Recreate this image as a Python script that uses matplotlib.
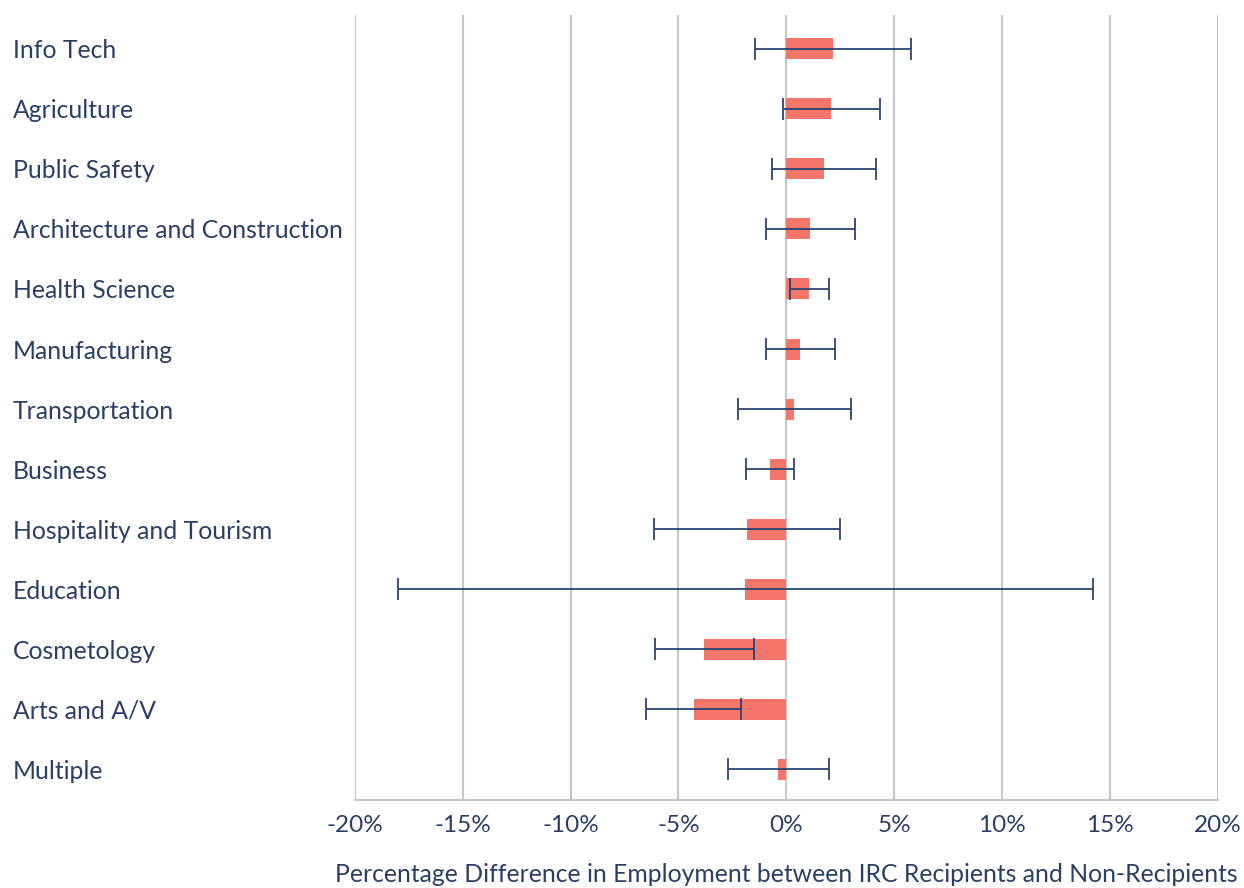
import matplotlib
matplotlib.use("Agg")
import matplotlib.pyplot as plt
from matplotlib.ticker import FuncFormatter

# Career clusters, top to bottom
clusters = [
    "Info Tech", "Agriculture", "Public Safety", "Architecture and Construction",
    "Health Science", "Manufacturing", "Transportation", "Business",
    "Hospitality and Tourism", "Education", "Cosmetology", "Arts and A/V", "Multiple",
]
# Percentage difference in employment (points) and half-width of the interval
diff = [2.18, 2.09, 1.73, 1.12, 1.07, 0.66, 0.38, -0.74, -1.83, -1.90, -3.81, -4.30, -0.38]
err = [3.62, 2.26, 2.41, 2.08, 0.89, 1.60, 2.61, 1.12, 4.30, 16.12, 2.30, 2.22, 2.34]
xticks = [-20, -15, -10, -5, 0, 5, 10, 15, 20]

TEXT = "#2b3f66"
BAR = "#f4766b"
ERR = "#2b4470"
GRID = "#c6c6c6"

plt.rcParams["font.family"] = ["Lato", "DejaVu Sans"]

W, H, DPI = 1244, 888, 100
fig = plt.figure(figsize=(W / DPI, H / DPI), dpi=DPI)
ax = fig.add_axes([355 / W, (H - 800) / H, (1217.5 - 355) / W, (800 - 15) / H])

y = list(range(len(clusters)))
ax.barh(y, diff, height=0.35, color=BAR, zorder=2)
ax.errorbar(diff, y, xerr=err, fmt="none", ecolor=ERR, elinewidth=1.3,
            capsize=8, capthick=1.3, zorder=3)

ax.set_xlim(-20, 20)
ax.set_ylim(12.508, -0.561)
ax.set_xticks(xticks)
ax.xaxis.set_major_formatter(FuncFormatter(lambda v, p: f"{v:.0f}%"))
ax.grid(axis="x", color=GRID, linewidth=1.5, zorder=0)
ax.set_axisbelow(True)

for s in ["top", "right", "left"]:
    ax.spines[s].set_visible(False)
ax.spines["bottom"].set_color(GRID)
ax.spines["bottom"].set_linewidth(1.5)

ax.set_yticks(y)
ax.set_yticklabels(clusters, fontsize=17.8, color=TEXT, ha="left")
ax.tick_params(axis="y", length=0, pad=(355 - 13) * 72 / DPI)
ax.tick_params(axis="x", length=0, pad=11, labelsize=17.5, labelcolor=TEXT)

ax.set_xlabel("Percentage Difference in Employment between IRC Recipients and Non-Recipients",
              fontsize=17.8, color=TEXT, labelpad=19)

fig.savefig("out.png", dpi=DPI, facecolor="white")
